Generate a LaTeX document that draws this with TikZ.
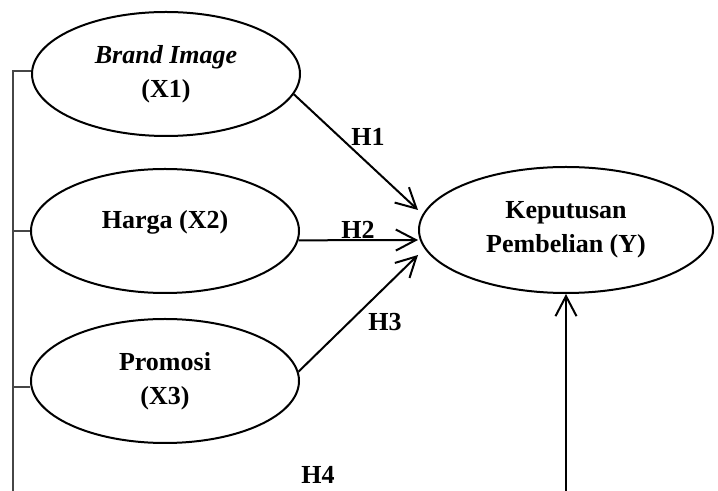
\documentclass[tikz,border=0pt]{standalone}
\usepackage{fontspec}
\setmainfont{Liberation Serif}
\usetikzlibrary{shapes.geometric, arrows.meta, positioning, calc}
\definecolor{linecolor}{RGB}{0, 0, 0}
\definecolor{bracketcolor}{RGB}{70, 70, 70}
\tikzset{
    % Base styles
    varnode/.style={
        ellipse, draw=linecolor, line width=1pt, align=center,
        font=\fontsize{13}{17}\selectfont\bfseries,
        minimum width=134pt, minimum height=62pt, inner sep=0pt
    },
    % Dependent variable
    depnode/.style={varnode, minimum width=147pt, minimum height=63pt},
    % Arrows
    myarrow/.style={-{Straight Barb[length=10pt, width=10.5pt, line width=1pt]}, line width=1pt, linecolor},
    bracketline/.style={line width=0.6pt, bracketcolor},
    % Labels
    hlabel/.style={font=\fontsize{13}{17}\selectfont\bfseries, inner sep=0pt},
}

\begin{document}
\begin{tikzpicture}[x=0.5pt, y=-0.5pt]
\useasboundingbox (0,0) rectangle (718,491);

% Independent variables
\node (x1) [varnode] at (166,74) {\textit{Brand Image}\\(X1)};
\node (x2) [varnode, text depth=12pt] at (165,231) {Harga (X2)};
\node (x3) [varnode] at (165,381) {Promosi\\(X3)};

% Dependent variable
\node (y) [depnode] at (566,230) {Keputusan\\Pembelian (Y)};

% Ends cut off by the page
\coordinate (busend) at (13,491);
\coordinate (yend) at (566,491);
\coordinate (t3) at ($(x3.west)+(0,6)$);

% Left bracket
\draw[bracketline] ($(x1.west)+(0,-3)$) -| (busend);
\draw[bracketline] (x2.west) -- (x2.west -| busend);
\draw[bracketline] (t3) -- (t3 -| busend);

% Hypothesis arrows
\draw[myarrow] (x1.-9) -- ($(y.west)+(0,-20)$);
\draw[myarrow] (x2.-4) -- ($(y.west)+(0,10)$);
\draw[myarrow] (x3.4) -- ($(y.west)+(0,25)$);
\draw[myarrow] (yend) -- (y.south);

% Hypothesis labels
\node[hlabel] (h1) at (368,137) {H1};
\node[hlabel] (h2) at (358,230) {H2};
\node[hlabel] (h3) at (385,322) {H3};
\node[hlabel] (h4) at (318,475) {H4};

\end{tikzpicture}
\end{document}
